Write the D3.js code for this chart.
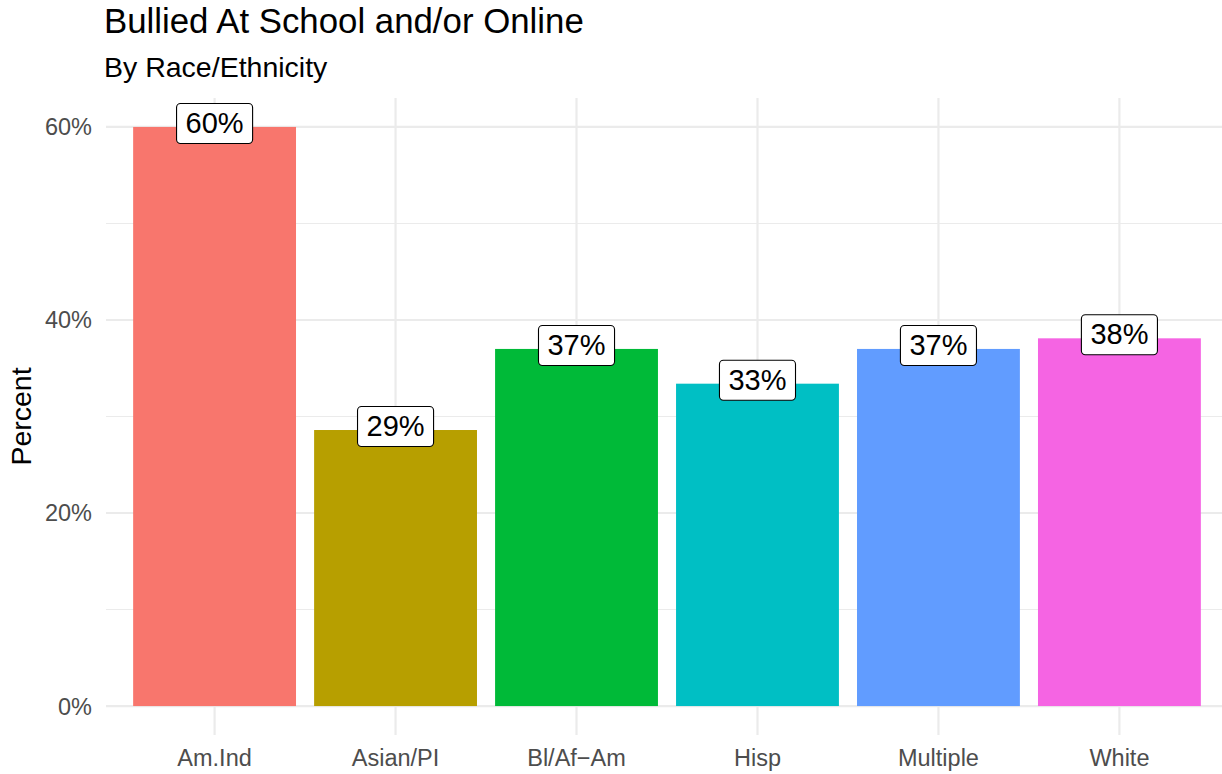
<!DOCTYPE html>
<html><head><meta charset="utf-8">
<script src="https://cdn.jsdelivr.net/npm/d3@7"></script>
<style>body{margin:0;background:#fff}svg{display:block;font-family:"Liberation Sans",Arial,sans-serif}</style>
</head><body><svg id="c" width="1222" height="774"></svg>
<script>
const categories = ["Am.Ind","Asian/PI","Bl/Af\u2212Am","Hisp","Multiple","White"];
const values = [60.0, 28.6, 37.0, 33.4, 37.0, 38.1];
const labels = ["60%","29%","37%","33%","37%","38%"];
const colors = ["#F8766D","#B79F00","#00BA38","#00BFC4","#619CFF","#F564E3"];
const yTicks = [0,20,40,60];
const yMinor = [10,30,50];

const svg = d3.select("#c");
const panelL = 106, panelR = 1228, panelT = 98, panelB = 735;
const n = categories.length;
const step = (panelR - panelL) / (n - 1 + 1.2);
const x = d3.scalePoint().domain(categories).range([panelL + 0.6*step, panelR - 0.6*step]);
const y = d3.scaleLinear().domain([-3, 63]).range([panelB, panelT]);
const bw = step * 0.9;

const g = svg.append("g");
g.selectAll(".ymin").data(yMinor).join("line")
  .attr("x1", panelL).attr("x2", panelR).attr("y1", d=>y(d)).attr("y2", d=>y(d))
  .attr("stroke","#EBEBEB").attr("stroke-width",1.1);
g.selectAll(".ymaj").data(yTicks).join("line")
  .attr("x1", panelL).attr("x2", panelR).attr("y1", d=>y(d)).attr("y2", d=>y(d))
  .attr("stroke","#EBEBEB").attr("stroke-width",2.2);
g.selectAll(".xmaj").data(categories).join("line")
  .attr("x1", d=>x(d)).attr("x2", d=>x(d)).attr("y1", panelT).attr("y2", panelB)
  .attr("stroke","#EBEBEB").attr("stroke-width",2.2);

g.selectAll(".bar").data(categories).join("rect")
  .attr("x", d=>x(d)-bw/2).attr("width", bw)
  .attr("y", (d,i)=>y(values[i])).attr("height", (d,i)=>y(0)-y(values[i]))
  .attr("fill", (d,i)=>colors[i]);

categories.forEach((c,i)=>{
  const cx = x(c), cy = y(values[i]) - 4;
  const t = g.append("text").attr("x",cx).attr("y",cy).attr("text-anchor","middle")
    .attr("dominant-baseline","central").attr("font-size",29).attr("fill","#000").text(labels[i]);
  const bb = t.node().getBBox();
  const w = bb.width + 18, h = 40;
  g.insert("rect", () => t.node())
    .attr("x", cx - w/2).attr("y", cy - h/2 + 0.5).attr("width", w).attr("height", h)
    .attr("rx",4).attr("ry",4).attr("fill","#fff").attr("stroke","#000").attr("stroke-width",1.1);
});

svg.selectAll(".yl").data(yTicks).join("text")
  .attr("x", 92).attr("y", d=>y(d)).attr("dy","0.36em").attr("text-anchor","end")
  .attr("font-size",23.5).attr("fill","#4D4D4D").text(d=>d+"%");
svg.selectAll(".xl").data(categories).join("text")
  .attr("x", d=>x(d)).attr("y", 766).attr("text-anchor","middle")
  .attr("font-size",23.5).attr("fill","#4D4D4D").text(d=>d);
svg.append("text").attr("transform",`translate(31,${(panelT+panelB)/2}) rotate(-90)`)
  .attr("text-anchor","middle").attr("font-size",28.5).attr("fill","#000").text("Percent");
svg.append("text").attr("x",104).attr("y",33).attr("font-size",34.8).attr("fill","#000")
  .text("Bullied At School and/or Online");
svg.append("text").attr("x",104).attr("y",77).attr("font-size",28.5).attr("fill","#000")
  .text("By Race/Ethnicity");
</script></body></html>
